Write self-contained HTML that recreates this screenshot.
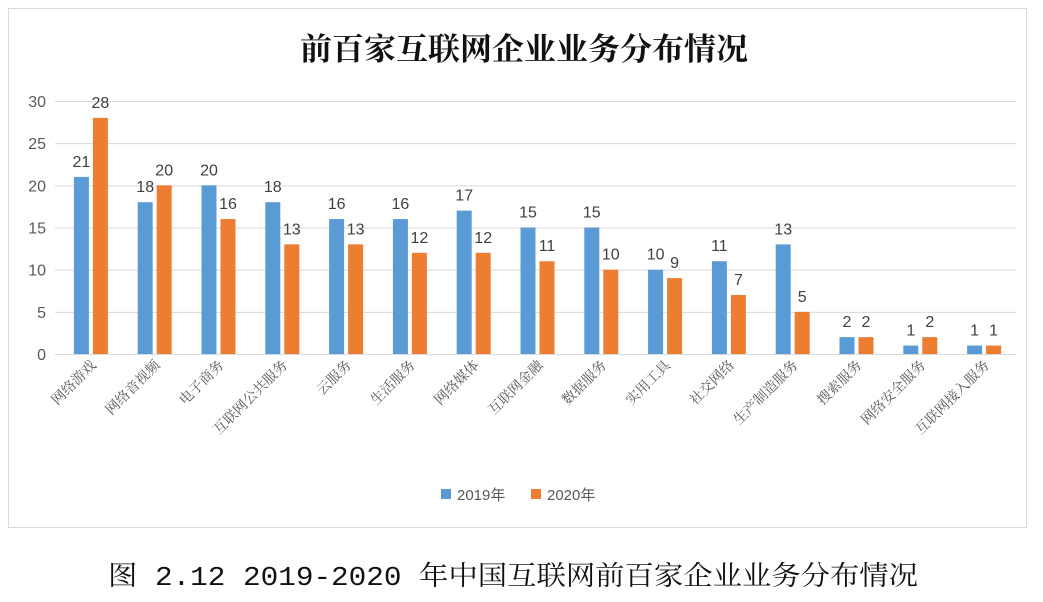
<!DOCTYPE html>
<html><head><meta charset="utf-8"><style>
body{margin:0;background:#fff;width:1043px;height:597px;overflow:hidden;font-family:"Liberation Sans","Noto Sans CJK SC",sans-serif}
</style></head><body>
<svg id="chart" width="1043" height="597" xmlns="http://www.w3.org/2000/svg">
<rect x="8.5" y="8.5" width="1018" height="519" fill="#fff" stroke="#d9d9d9"/>
<text x="300" y="60" textLength="448" lengthAdjust="spacingAndGlyphs" font-size="31" font-weight="bold" fill="#111" font-family="'Noto Serif CJK SC',serif">前百家互联网企业业务分布情况</text>
<g id="grid"></g><g id="bars"></g><g id="labels"></g>
<g>
<rect x="441" y="489" width="10" height="10" fill="#5B9BD5"/><text x="457" y="500" font-size="15" fill="#595959">2019年</text>
<rect x="531" y="489" width="10" height="10" fill="#ED7D31"/><text x="547" y="500" font-size="15" fill="#595959">2020年</text>
</g>
<text x="108" y="585" textLength="810" lengthAdjust="spacingAndGlyphs" font-size="27" fill="#111" font-family="'Liberation Mono','Noto Serif CJK SC',serif">图 2.12 2019-2020 年中国互联网前百家企业业务分布情况</text>
</svg>
<script>
const categories=["网络游戏","网络音视频","电子商务","互联网公共服务","云服务","生活服务","网络媒体","互联网金融","数据服务","实用工具","社交网络","生产制造服务","搜索服务","网络安全服务","互联网接入服务"];
const s2019=[21,18,20,18,16,16,17,15,15,10,11,13,2,1,1];
const s2020=[28,20,16,13,13,12,12,11,10,9,7,5,2,2,1];
const yTicks=[0,5,10,15,20,25,30];
const NS="http://www.w3.org/2000/svg";
const x0=59,x1=1016,yb=354,yt=101,ymax=30;
const step=(x1-x0)/categories.length;
const y=v=>yb-(v/ymax)*(yb-yt);
const cx=i=>x0+step*(i+0.5);
function mk(tag,at,parent){const e=document.createElementNS(NS,tag);for(const k in at)e.setAttribute(k,at[k]);document.getElementById(parent).appendChild(e);return e;}
yTicks.forEach(t=>{
 const l=mk('line',{x1:x0-4,x2:x1,y1:y(t)+.5,y2:y(t)+.5,stroke:'#d9d9d9'},'grid');
 
 
 const tx=mk('text',{x:46,y:y(t)+6,'text-anchor':'end','font-size':16,fill:'#595959'},'grid');tx.textContent=t;
 
 
});
const bw=15,gap=4;
categories.forEach((c,i)=>{
 [[s2019,'#5B9BD5',-1],[s2020,'#ED7D31',1]].forEach(([s,col,d])=>{
  const bx=d<0?cx(i)-gap/2-bw:cx(i)+gap/2;
  const r=mk('rect',{x:bx,y:y(s[i]),width:bw,height:yb-y(s[i]),fill:col},'bars');
  
  
  const t=mk('text',{x:bx+bw/2,y:y(s[i])-10,'text-anchor':'middle','font-size':16,fill:'#404040'},'bars');t.textContent=s[i];
  
  
 });
 const lx=cx(i)+6,ly=366;
 const t=mk('text',{x:lx,y:ly,'text-anchor':'end','font-size':14,fill:'#595959','font-family':"'Noto Serif CJK SC',serif",transform:`rotate(-45 ${lx} ${ly})`},'labels');t.textContent=c;
 
 
});
</script>
</body></html>
